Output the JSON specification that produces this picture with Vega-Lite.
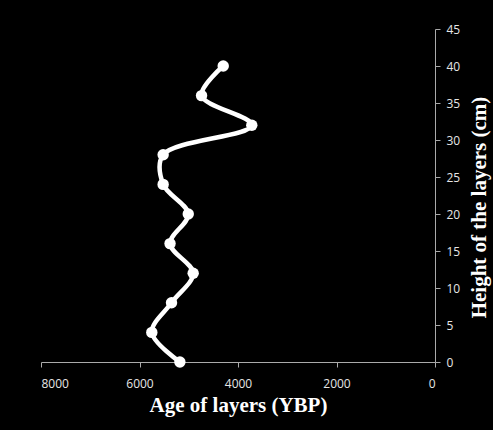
{
  "$schema": "https://vega.github.io/schema/vega-lite/v6.json",
  "width": 394,
  "height": 333,
  "autosize": {"type": "none"},
  "padding": {"left": 41, "top": 29, "right": 58, "bottom": 68},
  "background": "black",
  "config": {"view": {"stroke": null}},
  "data": {"values": [
    {"height": 0, "age": 5180},
    {"height": 4, "age": 5750},
    {"height": 8, "age": 5350},
    {"height": 12, "age": 4910},
    {"height": 16, "age": 5380},
    {"height": 20, "age": 5010},
    {"height": 24, "age": 5520},
    {"height": 28, "age": 5520},
    {"height": 32, "age": 3720},
    {"height": 36, "age": 4740},
    {"height": 40, "age": 4300}
  ]},
  "encoding": {
    "x": {
      "field": "age", "type": "quantitative",
      "scale": {"domain": [0, 8000], "reverse": true, "nice": false},
      "axis": {
        "values": [0, 2000, 4000, 6000, 8000],
        "format": "d",
        "title": "Age of layers (YBP)",
        "titleFont": "Liberation Serif", "titleFontSize": 21, "titleFontWeight": "bold",
        "titleColor": "white", "titlePadding": 5,
        "labelFont": "Open Sans", "labelFontSize": 12, "labelColor": "#e6e6e6",
        "labelPadding": 11, "tickSize": 5, "tickColor": "#aaaaaa",
        "domainColor": "#aaaaaa", "grid": false
      }
    },
    "y": {
      "field": "height", "type": "quantitative",
      "scale": {"domain": [0, 45], "nice": false},
      "axis": {
        "orient": "right",
        "values": [0, 5, 10, 15, 20, 25, 30, 35, 40, 45],
        "title": "Height of the layers (cm)",
        "titleFont": "Liberation Serif", "titleFontSize": 21, "titleFontWeight": "bold",
        "titleColor": "white", "titleAngle": 270, "titlePadding": 30, "titleY": 178,
        "labelFont": "Open Sans", "labelFontSize": 12, "labelColor": "#e6e6e6",
        "labelPadding": 6, "tickSize": 5, "tickColor": "#aaaaaa",
        "domainColor": "#aaaaaa", "grid": false
      }
    },
    "order": {"field": "height", "type": "quantitative"}
  },
  "layer": [
    {"mark": {"type": "line", "color": "white", "strokeWidth": 4.5, "interpolate": "catmull-rom"}},
    {"mark": {"type": "point", "filled": true, "color": "white", "opacity": 1, "size": 130}}
  ]
}
